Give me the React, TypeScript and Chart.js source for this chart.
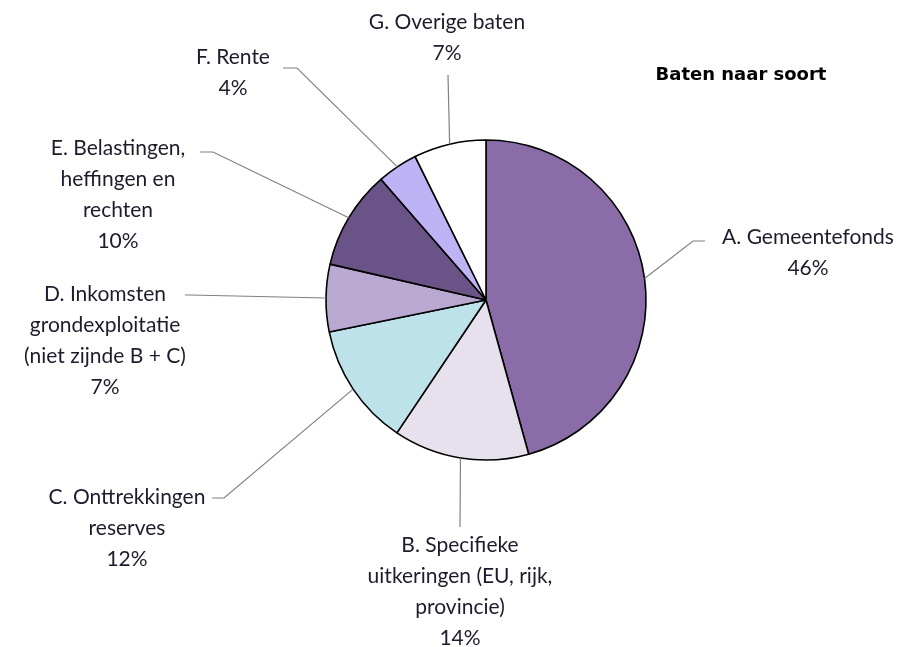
import React, { useEffect, useRef } from "react";
import { Chart, registerables } from "chart.js";

Chart.register(...registerables);

const categories: string[][] = [
  ["A. Gemeentefonds"],
  ["B. Specifieke", "uitkeringen (EU, rijk,", "provincie)"],
  ["C. Onttrekkingen", "reserves"],
  ["D. Inkomsten", "grondexploitatie", "(niet zijnde B + C)"],
  ["E. Belastingen,", "heffingen en", "rechten"],
  ["F. Rente"],
  ["G. Overige baten"],
];
const values: number[] = [45.7, 13.7, 12.4, 6.8, 10.0, 4.1, 7.3];
const colors: string[] = ["#8A6DA8", "#E7E1ED", "#BEE2EA", "#B9A8CF", "#6A5386", "#BDB3F5", "#FFFFFF"];
const title = "Baten naar soort";

// label layout relative to pie centre: text centre (first line), stub start x, elbow
const labelLayout = [
  { tx: 322, ty: -63, sx: 219, ex: 207, ey: -59 },
  { tx: -26, ty: 245, sx: null, ex: -26, ey: 227 },
  { tx: -359, ty: 197, sx: -274, ex: -262, ey: 198 },
  { tx: -381, ty: -6, sx: -301, ex: -296, ey: -5 },
  { tx: -368, ty: -152, sx: -286, ex: -273, ey: -148 },
  { tx: -253, ty: -243, sx: -203, ex: -189, ey: -232 },
  { tx: -39, ty: -278, sx: null, ex: -38, ey: -225 },
];

const FONT = "Lato, 'Open Sans', sans-serif";

const labelPlugin = {
  id: "pieLabels",
  afterDatasetsDraw(chart: any) {
    const ctx = chart.ctx;
    const meta = chart.getDatasetMeta(0);
    ctx.save();
    meta.data.forEach((arc: any, i: number) => {
      const { x, y, startAngle, endAngle, outerRadius } = arc.getProps(
        ["x", "y", "startAngle", "endAngle", "outerRadius"],
        true
      );
      const mid = (startAngle + endAngle) / 2;
      const ax = x + Math.cos(mid) * outerRadius;
      const ay = y + Math.sin(mid) * outerRadius;
      const L = labelLayout[i];
      ctx.strokeStyle = "#808080";
      ctx.lineWidth = 1.2;
      ctx.beginPath();
      if (L.sx !== null) {
        ctx.moveTo(x + L.sx, y + L.ey);
        ctx.lineTo(x + L.ex, y + L.ey);
      } else {
        ctx.moveTo(x + L.ex, y + L.ey);
      }
      ctx.lineTo(ax, ay);
      ctx.stroke();

      ctx.fillStyle = "#1c1c2c";
      ctx.font = `21px ${FONT}`;
      ctx.textAlign = "center";
      ctx.textBaseline = "middle";
      const lines = [...categories[i], Math.round(values[i]) + "%"];
      lines.forEach((t, k) => {
        ctx.fillText(t, x + L.tx, y + L.ty + k * 31);
      });
    });
    const c = meta.data[0];
    ctx.font = `bold 18px 'DejaVu Sans', sans-serif`;
    ctx.fillStyle = "#000";
    ctx.textAlign = "center";
    ctx.textBaseline = "middle";
    ctx.fillText(title, c.x + 255, c.y - 225);
    ctx.restore();
  },
};

export default function App() {
  const ref = useRef<HTMLCanvasElement | null>(null);
  useEffect(() => {
    if (!ref.current) return;
    const chart = new Chart(ref.current, {
      type: "pie",
      data: {
        labels: categories.map((c) => c.join(" ")),
        datasets: [
          {
            data: values,
            backgroundColor: colors,
            borderColor: "#000",
            borderWidth: 1.6,
            borderAlign: "center",
          },
        ],
      },
      options: {
        responsive: false,
        animation: false,
        radius: 160,
        layout: { padding: { left: 326, right: 262, top: 140, bottom: 187 } },
        plugins: {
          legend: { display: false },
          tooltip: { enabled: false },
          title: { display: false },
        },
      },
      plugins: [labelPlugin],
    } as any);
    return () => chart.destroy();
  }, []);
  return (
    <div style={{ position: "absolute", left: 0, top: 0, width: 908, height: 647, background: "#fff" }}>
      <canvas ref={ref} width={908} height={647} style={{ width: 908, height: 647 }} />
    </div>
  );
}
